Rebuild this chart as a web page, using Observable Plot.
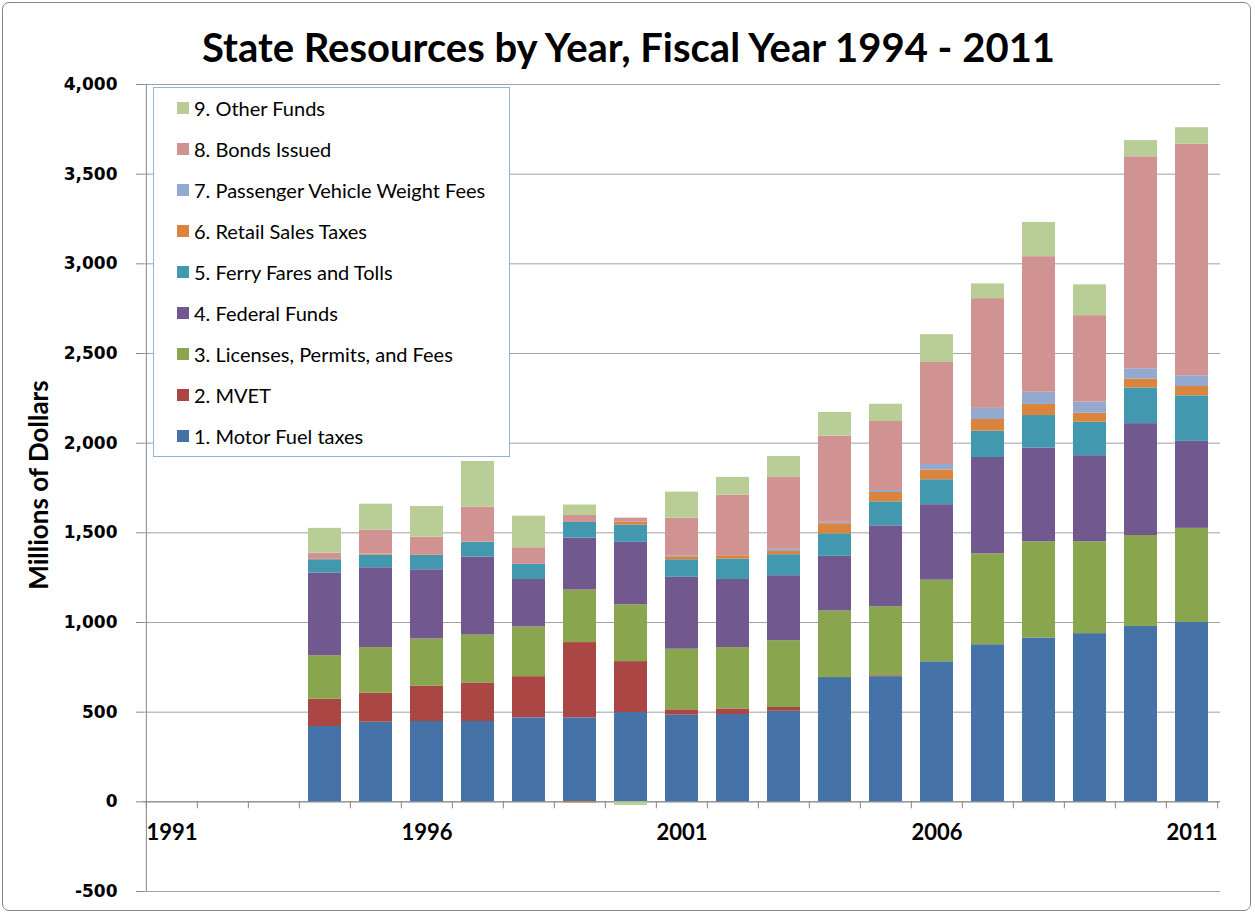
<!DOCTYPE html>
<html>
<head>
<meta charset="utf-8">
<script src="https://cdn.jsdelivr.net/npm/d3@7"></script>
<script src="https://cdn.jsdelivr.net/npm/@observablehq/plot@0.6"></script>
<style>
  html, body { margin: 0; padding: 0; background: #fff; }
  #wrap { position: relative; width: 1255px; height: 915px; overflow: hidden; }
  #border { position: absolute; left: 2px; top: 2px; width: 1247px; height: 907px; border: 1px solid #868686; border-radius: 7px; }
  #title { position: absolute; left: 0; top: 22px; width: 1257px; text-align: center; font-family: Lato, sans-serif; font-weight: bold; font-size: 40px; line-height: 50px; color: #000; }
  #chart { position: absolute; left: 0; top: 70px; }
  #ylabel { position: absolute; left: 38px; top: 485px; transform: translate(-50%, -50%) rotate(-90deg); font-family: Lato, sans-serif; font-weight: bold; font-size: 26px; white-space: nowrap; }
  #legend { position: absolute; left: 153px; top: 87px; width: 355px; height: 368px; background: #fff; border: 1px solid #95B3D7; font-family: Lato, sans-serif; font-size: 20px; color: #000; }
  .item { position: absolute; left: 23px; height: 24px; line-height: 24px; white-space: nowrap; }
  .sw { position: absolute; left: 0; top: 6px; width: 12px; height: 12px; }
  .lab { position: absolute; left: 17px; top: 0; }
</style>
</head>
<body>
<div id="wrap">
  <div id="border"></div>
  <div id="title">State Resources by Year, Fiscal Year 1994 - 2011</div>
  <div id="chart"></div>
  <div id="ylabel">Millions of Dollars</div>
  <div id="legend"></div>
</div>
<script>
const axisYears = ["1991","1992","1993","1994","1995","1996","1997","1998","1999","2000","2001","2002","2003","2004","2005","2006","2007","2008","2009","2010","2011"];
const labelYears = ["1991","1996","2001","2006","2011"];
const years = ["1994","1995","1996","1997","1998","1999","2000","2001","2002","2003","2004","2005","2006","2007","2008","2009","2010","2011"];
const seriesNames = ["1. Motor Fuel taxes","2. MVET","3. Licenses, Permits, and Fees","4. Federal Funds","5. Ferry Fares and Tolls","6. Retail Sales Taxes","7. Passenger Vehicle Weight Fees","8. Bonds Issued","9. Other Funds"];
const seriesColors = ["#4572A7","#AA4643","#89A54E","#71588F","#4198AF","#DB843D","#93A9CF","#D19392","#B9CD96"];

const motorFuel = [420,444,448,448,468,468,498,483,487,505,693,698,781,876,913,938,978,1000];
const mvet      = [152,161,196,215,230,420,284,30,31,21,0,5,0,0,0,0,0,0];
const licenses  = [243,255,264,267,277,293,317,338,342,373,371,385,455,507,537,512,507,525];
const federal   = [461,445,386,435,265,290,348,401,380,362,305,451,421,537,523,480,624,485];
const ferry     = [74,71,80,82,84,87,96,98,114,117,126,134,139,147,181,187,199,254];
const retail    = [2,6,4,2,0,-7,17,17,18,18,56,52,55,65,62,50,50,52];
const pvwf      = [0,0,0,0,0,0,0,5,0,12,8,11,30,62,68,62,57,60];
const bonds     = [35,133,98,195,93,39,22,210,338,401,480,385,569,612,756,482,1182,1291];
const other     = [138,145,171,254,176,58,-20,145,99,117,132,96,155,82,191,172,90,92];

const seriesValues = [motorFuel, mvet, licenses, federal, ferry, retail, pvwf, bonds, other];
const yTicks = [-500,0,500,1000,1500,2000,2500,3000,3500,4000];

const rows = [];
seriesValues.forEach((vals, si) => {
  vals.forEach((v, i) => rows.push({year: years[i], series: seriesNames[si], value: v}));
});

const W = 1255, H = 845, ML = 143, MR = 35, MT = 14, MB = 24;
const bw = (W - ML - MR) / axisYears.length;
const pxPerUnit = (H - MT - MB) / 4500;
const tickLen = 7 / pxPerUnit;

const chart = Plot.plot({
  width: W, height: H,
  marginLeft: ML, marginRight: MR, marginTop: MT, marginBottom: MB,
  x: {type: "band", domain: axisYears, padding: 0, axis: null},
  y: {domain: [-500, 4000], axis: null},
  color: {domain: seriesNames, range: seriesColors},
  style: {background: "transparent", overflow: "visible"},
  marks: [
    Plot.ruleY(yTicks, {stroke: "#A0A0A0", strokeWidth: 1}),
    Plot.ruleX(["1991"], {dx: -bw / 2, y1: -500, y2: 4000, stroke: "#868686"}),
    Plot.ruleY([0], {stroke: "#868686", strokeWidth: 1}),
    Plot.ruleX(axisYears, {x: d => d, dx: -bw / 2, y1: 0, y2: -tickLen, stroke: "#868686"}),
    Plot.ruleX(["2011"], {dx: bw / 2, y1: 0, y2: -tickLen, stroke: "#868686"}),
    Plot.barY(rows, {x: "year", y: "value", fill: "series", insetLeft: 9, insetRight: 9}),
    Plot.axisY({ticks: yTicks, label: null, tickFormat: d => d.toLocaleString("en-US"), tickSize: 7, tickPadding: 19, stroke: "#868686", fill: "#000", fontSize: 17, fontWeight: "bold", fontFamily: "DejaVu Sans"}),
    Plot.text(labelYears, {x: d => d, y: 0, dy: 31, text: d => d, fontSize: 22, fontWeight: "bold", fontFamily: "Lato", fill: "#000"})
  ]
});
document.getElementById("chart").appendChild(chart);

const legend = document.getElementById("legend");
const order = [8,7,6,5,4,3,2,1,0];
order.forEach((si, k) => {
  const it = document.createElement("div");
  it.className = "item";
  it.style.top = (8 + 41 * k) + "px";
  it.innerHTML = `<span class="sw" style="background:${seriesColors[si]}"></span><span class="lab">${seriesNames[si]}</span>`;
  legend.appendChild(it);
});
</script>
</body>
</html>
